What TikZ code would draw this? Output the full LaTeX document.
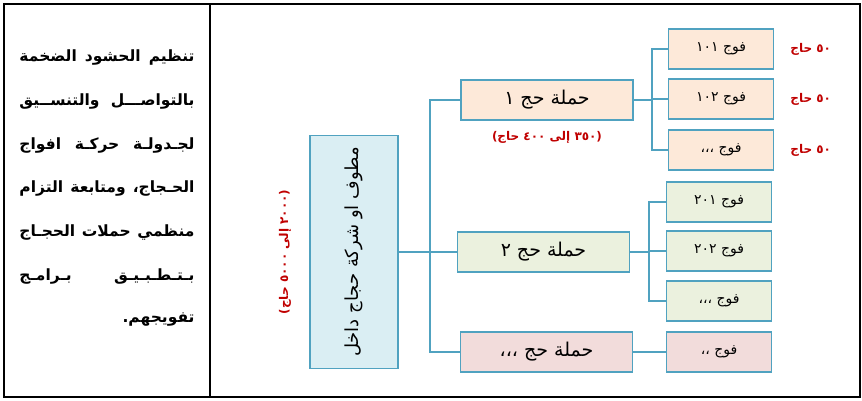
\documentclass[tikz,border=0pt]{standalone}
\usepackage{fontspec}
\newfontfamily\arabicfont[Script=Arabic]{DejaVu Sans}
\TeXXeTstate=1
\usetikzlibrary{positioning}
\definecolor{frameline}{RGB}{80,162,192}
\definecolor{agentfill}{RGB}{218,238,243}
\definecolor{campfillA}{RGB}{253,233,217}
\definecolor{campfillB}{RGB}{235,241,222}
\definecolor{campfillC}{RGB}{242,220,219}
\definecolor{countred}{RGB}{192,0,0}
\begin{document}
\begin{tikzpicture}[x=1pt,y=-1pt,
		hajjline/.style={draw=frameline, line width=1.3pt},
		hajjbox/.style={hajjline, minimum height=40pt, inner sep=0pt, font=\arabicfont\fontsize{19}{21}\selectfont},
		campbox/.style={hajjbox, minimum width=172pt},
		groupbox/.style={hajjbox, minimum width=105pt, font=\arabicfont\fontsize{14}{16}\selectfont},
		countlabel/.style={text=countred, inner sep=0pt, font=\arabicfont\bfseries\fontsize{12}{14}\selectfont},
		introline/.style={inner sep=0pt, font=\arabicfont\bfseries\fontsize{15.5}{18}\selectfont}]
			\useasboundingbox (0,0) rectangle (862,401);
			\draw[line width=2.5pt] (4,4) rectangle (860,397);
			\draw[line width=1.5pt] (210,4) -- (210,397);
			\foreach \txt [count=\i] in {تنظيم الحشود الضخمة, بالتواصـــل والتنســيق, لجـدولـة حركـة افواج, الحـجاج، ومتابعة التزام, منظمي حملات الحجـاج, بـتـطـبـيـق بـرامـج, تفويجهم.\hfill}
				\node[introline] (intro\i) at (107,14+43.7*\i) {\makebox[175pt][s]{\beginR\txt\endR}};
			\node[hajjline, fill=agentfill, minimum width=88pt, minimum height=233pt, inner sep=0pt] (agent) at (354,252) {\rotatebox{90}{\arabicfont\fontsize{18}{20}\selectfont\beginR مطوف او شركة حجاج داخل\endR}};
			\node[countlabel] (agentcount) at (285,252) {\rotatebox{90}{)\beginR ٢٠٠٠ إلى ٥٠٠٠ حاج\endR(}};
			\node[campbox, fill=campfillA] (camp1) at (547,100) {\beginR حملة حج ١\endR};
			\node[countlabel] (camp1count) at (547,137) {)\beginR ٣٥٠ إلى ٤٠٠ حاج\endR(};
			\node[campbox, fill=campfillB] (camp2) at (543.5,252) {\beginR حملة حج ٢\endR};
			\node[campbox, fill=campfillC] (camp3) at (546.5,352) {\beginR حملة حج ،،،\endR};
			\node[groupbox, fill=campfillA] (group11) at (721,49) {\beginR فوج ١٠١\endR};
			\node[groupbox, fill=campfillA] (group12) at (721,99) {\beginR فوج ١٠٢\endR};
			\node[groupbox, fill=campfillA] (group13) at (721,150) {\beginR فوج ،،،\endR};
			\node[groupbox, fill=campfillB] (group21) at (719,202) {\beginR فوج ٢٠١\endR};
			\node[groupbox, fill=campfillB] (group22) at (719,251) {\beginR فوج ٢٠٢\endR};
			\node[groupbox, fill=campfillB] (group23) at (719,301) {\beginR فوج ،،،\endR};
			\node[groupbox, fill=campfillC] (group31) at (719,352) {\beginR فوج ،،\endR};
			\foreach \g in {1,2,3}
				\node[countlabel, right=16pt of group1\g] (count1\g) {\beginR ٥٠ حاج\endR};
			\coordinate (trunk) at (430,0);
			\coordinate (bus1) at (652,0);
			\coordinate (bus2) at (649,0);
			\draw[hajjline] (agent.east) -- (agent.east -| trunk);
			\draw[hajjline] (camp1.west) -- (camp1.west -| trunk) -- (camp3.west -| trunk) -- (camp3.west);
			\draw[hajjline] (camp2.west) -- (camp2.west -| trunk);
			\draw[hajjline] (camp1.east) -- (camp1.east -| bus1);
			\draw[hajjline] (group11.west) -- (group11.west -| bus1) -- (group13.west -| bus1) -- (group13.west);
			\draw[hajjline] (group12.west) -- (group12.west -| bus1);
			\draw[hajjline] (camp2.east) -- (camp2.east -| bus2);
			\draw[hajjline] (group21.west) -- (group21.west -| bus2) -- (group23.west -| bus2) -- (group23.west);
			\draw[hajjline] (group22.west) -- (group22.west -| bus2);
			\draw[hajjline] (camp3.east) -- (group31.west);
		\end{tikzpicture}
\end{document}
